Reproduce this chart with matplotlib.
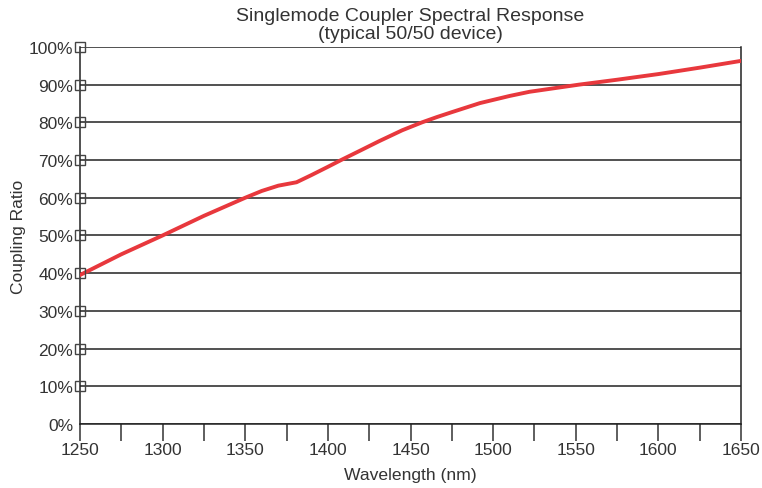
import numpy as np
import matplotlib.pyplot as plt
from matplotlib.ticker import MultipleLocator, FuncFormatter

plt.rcParams['font.family'] = ['Liberation Sans', 'DejaVu Sans']

# 读图得到的耦合比曲线
wavelength = [1250, 1275, 1300, 1325, 1350, 1360, 1370, 1381, 1390, 1400,
              1408, 1420, 1431, 1445, 1457, 1466, 1475, 1492, 1510, 1522,
              1552, 1575, 1600, 1625, 1650]
coupling = [39.5, 45.0, 50.0, 55.2, 60.0, 61.8, 63.2, 64.1, 66.0, 68.2,
            70.0, 72.6, 75.0, 77.9, 80.0, 81.4, 82.7, 85.1, 87.0, 88.1,
            90.0, 91.3, 92.8, 94.5, 96.3]

yticks = np.arange(0, 101, 10)
xticks = np.arange(1250, 1651, 50)

fig = plt.figure(figsize=(7.62, 4.89), dpi=100)
ax = fig.add_axes([0.105, 0.131, 0.8675, 0.771])

ax.plot(wavelength, coupling, color='#e8383d', lw=2.8, solid_capstyle='round',
        solid_joinstyle='round', zorder=3)

ax.set_xlim(1250, 1650)
ax.set_ylim(0, 100)
ax.set_xticks(xticks)
ax.xaxis.set_minor_locator(MultipleLocator(25))
ax.set_yticks(yticks)
ax.yaxis.set_major_formatter(FuncFormatter(lambda v, p: f'{int(v)}%'))

ax.grid(axis='y', color='#222222', lw=1.1)
ax.set_axisbelow(True)
for s in ['left', 'bottom', 'right']:
    ax.spines[s].set_color('#222222')
    ax.spines[s].set_linewidth(1.1)
ax.spines['top'].set_visible(False)

ax.tick_params(axis='x', which='both', direction='out', length=12, width=1.1,
               color='#333333', labelsize=12.5, labelcolor='#333333', pad=1)
ax.tick_params(axis='y', length=0, labelsize=12.5, labelcolor='#333333', pad=5)

# 缺字方框
ax.plot([1250] * (len(yticks) - 1), yticks[1:], ls='none', marker='s', ms=7,
        mfc='none', mec='#444444', mew=1.0, clip_on=False, zorder=4)

ax.set_xlabel('Wavelength (nm)', fontsize=12.6, color='#333333', labelpad=7)
ax.set_ylabel('Coupling Ratio', fontsize=12.5, color='#333333', labelpad=2)
ax.set_title('Singlemode Coupler Spectral Response\n(typical 50/50 device)',
             fontsize=14, color='#333333', linespacing=1.05, pad=6.5)

fig.savefig('out.png', dpi=100)
